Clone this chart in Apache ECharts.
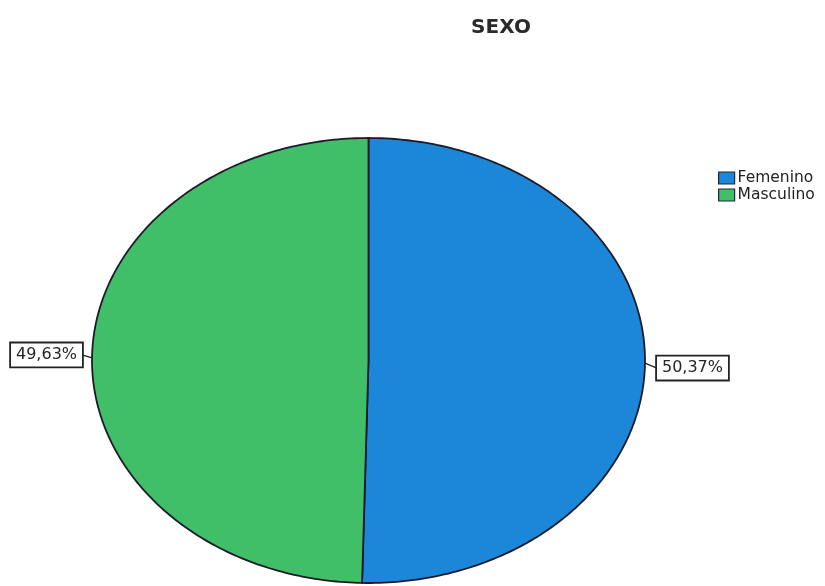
<!DOCTYPE html>
<html>
<head>
<meta charset="utf-8">
<script src="https://cdn.jsdelivr.net/npm/echarts@6/dist/echarts.min.js"></script>
<style>html,body{margin:0;padding:0;background:#fff}#c{width:825px;height:586px}</style>
</head>
<body>
<div id="c"></div>
<script>
const categories = ['Femenino', 'Masculino'];
const values = [50.37, 49.63];
const labels = ['50,37%', '49,63%'];
const colors = ['#1c87d9', '#40bf68'];

const CX = 368.5, CY = 360.5, RX = 276.5, RY = 222.5;
const total = values.reduce((a, b) => a + b, 0);

function pt(theta, rx, ry) {
  return [CX + rx * Math.sin(theta), CY - ry * Math.cos(theta)];
}

function makeRender(idx) {
  return function (params, api) {
    const v = api.value(0);
    let before = 0;
    for (let i = 0; i < idx; i++) before += values[i];
    const a0 = before / total * Math.PI * 2;
    const a1 = (before + v) / total * Math.PI * 2;
    const pts = [[CX, CY]];
    const n = 200;
    for (let k = 0; k <= n; k++) {
      const t = a0 + (a1 - a0) * k / n;
      pts.push(pt(t, RX, RY));
    }
    const mid = (a0 + a1) / 2;
    const edge = pt(mid, RX, RY);
    const right = Math.sin(mid) > 0;
    const end = [edge[0] + (right ? 12 : -10), edge[1] + (right ? 5 : -3)];
    return {
      type: 'group',
      children: [
        {
          type: 'polygon',
          shape: { points: pts },
          style: { fill: colors[idx], stroke: '#1b1b2b', lineWidth: 1.8 }
        },
        {
          type: 'polyline',
          shape: { points: [edge, end] },
          style: { stroke: '#222', lineWidth: 1.2, fill: null },
          z2: 5
        },
        {
          type: 'text',
          x: end[0], y: end[1],
          style: {
            text: labels[idx],
            fill: '#262626',
            font: '16px "DejaVu Sans", sans-serif',
            align: right ? 'left' : 'right',
            verticalAlign: 'middle',
            backgroundColor: '#fff',
            borderColor: '#222',
            borderWidth: 1.8,
            padding: [4, 5, 3, 5]
          },
          z2: 6
        }
      ]
    };
  };
}

const chart = echarts.init(document.getElementById('c'), null, { renderer: 'canvas' });
chart.setOption({
  animation: false,
  backgroundColor: '#fff',
  title: {
    text: 'SEXO',
    left: 496, top: 13,
    textAlign: 'center',
    textStyle: { fontSize: 20, fontWeight: 'bold', color: '#2a2a2a', fontFamily: '"DejaVu Sans", sans-serif' }
  },
  legend: {
    orient: 'vertical',
    left: 718, top: 170,
    padding: 0,
    itemWidth: 16, itemHeight: 12, itemGap: 1,
    icon: 'rect',
    data: categories,
    itemStyle: { borderColor: '#1b2b3b', borderWidth: 1.2 },
    textStyle: { fontSize: 15.5, color: '#222', fontFamily: '"DejaVu Sans", sans-serif', padding: [0, 0, 0, -2] }
  },
  color: colors,
  series: categories.map((name, i) => ({
    type: 'custom',
    name: name,
    coordinateSystem: 'none',
    itemStyle: { color: colors[i] },
    renderItem: makeRender(i),
    data: [[values[i]]]
  }))
});
</script>
</body>
</html>
